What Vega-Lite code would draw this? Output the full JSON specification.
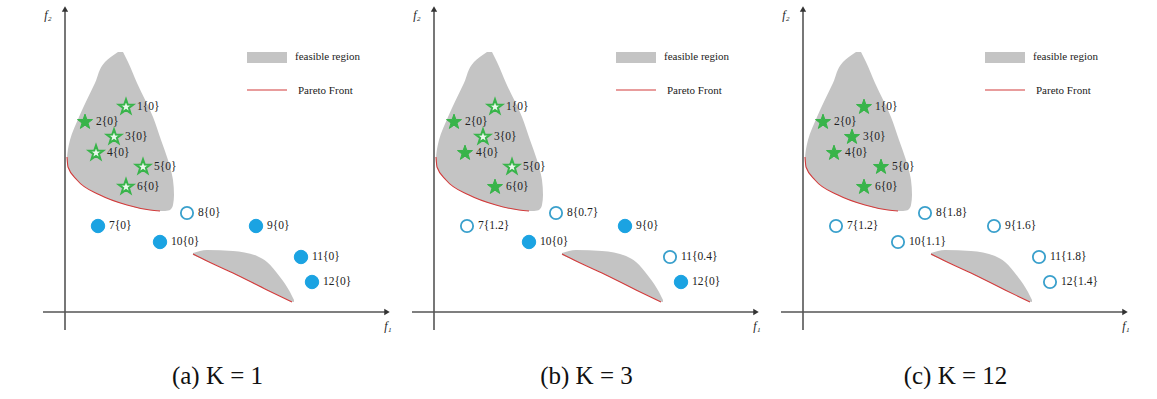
{
  "$schema": "https://vega.github.io/schema/vega-lite/v6.json",
  "padding": {"left": 20, "top": 0, "right": 0, "bottom": 0},
  "spacing": 0,
  "bounds": "flush",
  "config": {"view": {"stroke": null}},
  "datasets": {
    "regionA": [
      {"f2": 28.8, "xl": 9.8, "xr": 10.3}, {"f2": 27.8, "xl": 8.5, "xr": 10.8}, {"f2": 25.7, "xl": 7.5, "xr": 11.7},
      {"f2": 22.3, "xl": 5.9, "xr": 13.3}, {"f2": 20.0, "xl": 5.0, "xr": 14.1}, {"f2": 18.0, "xl": 4.7, "xr": 14.8},
      {"f2": 17.3, "xl": 4.8, "xr": 15.0}, {"f2": 16.0, "xl": 5.7, "xr": 15.3}, {"f2": 14.5, "xl": 8.0, "xr": 15.4},
      {"f2": 13.5, "xl": 10.7, "xr": 15.3}, {"f2": 13.0, "xl": 13.0, "xr": 15.0}, {"f2": 12.9, "xl": 14.0, "xr": 14.5}
    ],
    "regionB": [
      {"f1": 17.3, "top": 8.7, "bot": 8.5}, {"f1": 18.7, "top": 9.0, "bot": 7.9}, {"f1": 21.3, "top": 8.9, "bot": 6.7},
      {"f1": 23.7, "top": 8.4, "bot": 5.5}, {"f1": 24.7, "top": 7.8, "bot": 5.0}, {"f1": 26.0, "top": 6.3, "bot": 4.4},
      {"f1": 27.0, "top": 4.8, "bot": 3.9}, {"f1": 27.4, "top": 4.0, "bot": 3.8}
    ],
    "fronts": [
      {"r": 1, "f1": 4.7, "f2": 18.3}, {"r": 1, "f1": 4.8, "f2": 17.3}, {"r": 1, "f1": 5.7, "f2": 16.0},
      {"r": 1, "f1": 8.0, "f2": 14.5}, {"r": 1, "f1": 10.7, "f2": 13.5}, {"r": 1, "f1": 13.0, "f2": 13.0},
      {"r": 1, "f1": 14.0, "f2": 12.9},
      {"r": 2, "f1": 17.3, "f2": 8.6}, {"r": 2, "f1": 18.7, "f2": 7.9}, {"r": 2, "f1": 21.3, "f2": 6.7},
      {"r": 2, "f1": 24.7, "f2": 5.0}, {"r": 2, "f1": 27.2, "f2": 3.8}
    ],
    "axes": [
      {"f1": 4.5, "f1b": 4.5, "f2": 1.0, "f2b": 33.0},
      {"f1": 2.3, "f1b": 36.6, "f2": 2.8, "f2b": 2.8}
    ],
    "arrowUp": [{"f1": 4.5, "f2": 33.1}],
    "arrowRight": [{"f1": 36.7, "f2": 2.8}],
    "legRect": [{"f1": 22.7, "f1b": 26.7, "f2": 27.7, "f2b": 28.8}],
    "legLine": [{"f1": 22.7, "f1b": 26.7, "f2": 25.0}],
    "legText": [
      {"f1": 27.5, "f2": 28.3, "t": "feasible region"},
      {"f1": 27.8, "f2": 24.9, "t": "Pareto Front"}
    ],
    "axisLabels": [
      {"f1": 2.8, "f2": 32.5, "t": "f₂"},
      {"f1": 36.8, "f2": 1.4, "t": "f₁"}
    ],
    "pa": [
      {"id": 1, "f1": 10.6, "f2": 23.3, "state": "star-hollow", "label": "1{0}"},
      {"id": 2, "f1": 6.5, "f2": 21.8, "state": "star-filled", "label": "2{0}"},
      {"id": 3, "f1": 9.4, "f2": 20.3, "state": "star-hollow", "label": "3{0}"},
      {"id": 4, "f1": 7.6, "f2": 18.7, "state": "star-hollow", "label": "4{0}"},
      {"id": 5, "f1": 12.3, "f2": 17.3, "state": "star-hollow", "label": "5{0}"},
      {"id": 6, "f1": 10.6, "f2": 15.3, "state": "star-hollow", "label": "6{0}"},
      {"id": 7, "f1": 7.8, "f2": 11.4, "state": "circle-filled", "label": "7{0}"},
      {"id": 8, "f1": 16.7, "f2": 12.7, "state": "circle-hollow", "label": "8{0}"},
      {"id": 9, "f1": 23.6, "f2": 11.4, "state": "circle-filled", "label": "9{0}"},
      {"id": 10, "f1": 14.0, "f2": 9.8, "state": "circle-filled", "label": "10{0}"},
      {"id": 11, "f1": 28.1, "f2": 8.3, "state": "circle-filled", "label": "11{0}"},
      {"id": 12, "f1": 29.2, "f2": 5.8, "state": "circle-filled", "label": "12{0}"}
    ],
    "pb": [
      {"id": 1, "f1": 10.6, "f2": 23.3, "state": "star-hollow", "label": "1{0}"},
      {"id": 2, "f1": 6.5, "f2": 21.8, "state": "star-filled", "label": "2{0}"},
      {"id": 3, "f1": 9.4, "f2": 20.3, "state": "star-hollow", "label": "3{0}"},
      {"id": 4, "f1": 7.6, "f2": 18.7, "state": "star-filled", "label": "4{0}"},
      {"id": 5, "f1": 12.3, "f2": 17.3, "state": "star-hollow", "label": "5{0}"},
      {"id": 6, "f1": 10.6, "f2": 15.3, "state": "star-filled", "label": "6{0}"},
      {"id": 7, "f1": 7.8, "f2": 11.4, "state": "circle-hollow", "label": "7{1.2}"},
      {"id": 8, "f1": 16.7, "f2": 12.7, "state": "circle-hollow", "label": "8{0.7}"},
      {"id": 9, "f1": 23.6, "f2": 11.4, "state": "circle-filled", "label": "9{0}"},
      {"id": 10, "f1": 14.0, "f2": 9.8, "state": "circle-filled", "label": "10{0}"},
      {"id": 11, "f1": 28.1, "f2": 8.3, "state": "circle-hollow", "label": "11{0.4}"},
      {"id": 12, "f1": 29.2, "f2": 5.8, "state": "circle-filled", "label": "12{0}"}
    ],
    "pc": [
      {"id": 1, "f1": 10.6, "f2": 23.3, "state": "star-filled", "label": "1{0}"},
      {"id": 2, "f1": 6.5, "f2": 21.8, "state": "star-filled", "label": "2{0}"},
      {"id": 3, "f1": 9.4, "f2": 20.3, "state": "star-filled", "label": "3{0}"},
      {"id": 4, "f1": 7.6, "f2": 18.7, "state": "star-filled", "label": "4{0}"},
      {"id": 5, "f1": 12.3, "f2": 17.3, "state": "star-filled", "label": "5{0}"},
      {"id": 6, "f1": 10.6, "f2": 15.3, "state": "star-filled", "label": "6{0}"},
      {"id": 7, "f1": 7.8, "f2": 11.4, "state": "circle-hollow", "label": "7{1.2}"},
      {"id": 8, "f1": 16.7, "f2": 12.7, "state": "circle-hollow", "label": "8{1.8}"},
      {"id": 9, "f1": 23.6, "f2": 11.4, "state": "circle-hollow", "label": "9{1.6}"},
      {"id": 10, "f1": 14.0, "f2": 9.8, "state": "circle-hollow", "label": "10{1.1}"},
      {"id": 11, "f1": 28.1, "f2": 8.3, "state": "circle-hollow", "label": "11{1.8}"},
      {"id": 12, "f1": 29.2, "f2": 5.8, "state": "circle-hollow", "label": "12{1.4}"}
    ]
  },
  "hconcat": [
    {
      "width": 369, "height": 340,
      "title": {"text": "(a) K = 1", "orient": "bottom", "offset": 24, "dx": 13, "font": "Liberation Serif", "fontSize": 25, "fontWeight": "normal", "color": "#111111"},
      "layer": [
        {"data": {"name": "regionA"}, "mark": {"type": "area", "orient": "horizontal", "interpolate": "monotone", "color": "#c4c4c4"},
         "encoding": {"y": {"field": "f2", "type": "quantitative", "scale": {"domain": [0, 34], "nice": false, "zero": false}, "axis": null},
                      "x": {"field": "xl", "type": "quantitative", "scale": {"domain": [0, 36.9], "nice": false, "zero": false}, "axis": null},
                      "x2": {"field": "xr"}}},
        {"data": {"name": "regionB"}, "mark": {"type": "area", "interpolate": "monotone", "color": "#c4c4c4"},
         "encoding": {"x": {"field": "f1", "type": "quantitative"}, "y": {"field": "top", "type": "quantitative"}, "y2": {"field": "bot"}}},
        {"data": {"name": "fronts"}, "mark": {"type": "line", "interpolate": "monotone", "color": "#d23a3a", "strokeWidth": 1.1},
         "encoding": {"x": {"field": "f1", "type": "quantitative"}, "y": {"field": "f2", "type": "quantitative"}, "detail": {"field": "r", "type": "nominal"}}},
        {"data": {"name": "axes"}, "mark": {"type": "rule", "color": "#555555", "strokeWidth": 1.6},
         "encoding": {"x": {"field": "f1", "type": "quantitative"}, "x2": {"field": "f1b"}, "y": {"field": "f2", "type": "quantitative"}, "y2": {"field": "f2b"}}},
        {"data": {"name": "arrowUp"}, "mark": {"type": "point", "shape": "triangle-up", "filled": true, "color": "#333333", "size": 40, "opacity": 1},
         "encoding": {"x": {"field": "f1", "type": "quantitative"}, "y": {"field": "f2", "type": "quantitative"}}},
        {"data": {"name": "arrowRight"}, "mark": {"type": "point", "shape": "triangle-right", "filled": true, "color": "#333333", "size": 40, "opacity": 1},
         "encoding": {"x": {"field": "f1", "type": "quantitative"}, "y": {"field": "f2", "type": "quantitative"}}},
        {"data": {"name": "legRect"}, "mark": {"type": "rect", "color": "#c4c4c4"},
         "encoding": {"x": {"field": "f1", "type": "quantitative"}, "x2": {"field": "f1b"}, "y": {"field": "f2", "type": "quantitative"}, "y2": {"field": "f2b"}}},
        {"data": {"name": "legLine"}, "mark": {"type": "rule", "color": "#d23a3a", "strokeWidth": 1.2},
         "encoding": {"x": {"field": "f1", "type": "quantitative"}, "x2": {"field": "f1b"}, "y": {"field": "f2", "type": "quantitative"}}},
        {"data": {"name": "legText"}, "mark": {"type": "text", "align": "left", "baseline": "middle", "font": "Liberation Serif", "fontSize": 11, "color": "#222222"},
         "encoding": {"x": {"field": "f1", "type": "quantitative"}, "y": {"field": "f2", "type": "quantitative"}, "text": {"field": "t", "type": "nominal"}}},
        {"data": {"name": "axisLabels"}, "mark": {"type": "text", "align": "center", "baseline": "middle", "font": "Liberation Serif", "fontStyle": "italic", "fontSize": 12, "color": "#222222"},
         "encoding": {"x": {"field": "f1", "type": "quantitative"}, "y": {"field": "f2", "type": "quantitative"}, "text": {"field": "t", "type": "nominal"}}},
        {"data": {"name": "pa"}, "transform": [{"filter": {"field": "state", "equal": "star-filled"}}],
         "mark": {"type": "point", "shape": "M0,-1L0.235,-0.324L0.951,-0.309L0.38,0.124L0.588,0.809L0,0.4L-0.588,0.809L-0.38,0.124L-0.951,-0.309L-0.235,-0.324Z", "filled": true, "fill": "#38b44a", "stroke": "#38b44a", "strokeWidth": 1, "size": 250, "opacity": 1},
         "encoding": {"x": {"field": "f1", "type": "quantitative"}, "y": {"field": "f2", "type": "quantitative"}}},
        {"data": {"name": "pa"}, "transform": [{"filter": {"field": "state", "equal": "star-hollow"}}],
         "mark": {"type": "point", "shape": "M0,-1L0.235,-0.324L0.951,-0.309L0.38,0.124L0.588,0.809L0,0.4L-0.588,0.809L-0.38,0.124L-0.951,-0.309L-0.235,-0.324Z", "filled": true, "fill": "#eaf8ec", "stroke": "#38b44a", "strokeWidth": 2, "size": 230, "opacity": 1},
         "encoding": {"x": {"field": "f1", "type": "quantitative"}, "y": {"field": "f2", "type": "quantitative"}}},
        {"data": {"name": "pa"}, "transform": [{"filter": {"field": "state", "equal": "circle-filled"}}],
         "mark": {"type": "point", "shape": "circle", "filled": true, "fill": "#1ba3e2", "stroke": "#1ba3e2", "strokeWidth": 1, "size": 180, "opacity": 1},
         "encoding": {"x": {"field": "f1", "type": "quantitative"}, "y": {"field": "f2", "type": "quantitative"}}},
        {"data": {"name": "pa"}, "transform": [{"filter": {"field": "state", "equal": "circle-hollow"}}],
         "mark": {"type": "point", "shape": "circle", "filled": true, "fill": "#ffffff", "stroke": "#3aa0cc", "strokeWidth": 1.8, "size": 150, "opacity": 1},
         "encoding": {"x": {"field": "f1", "type": "quantitative"}, "y": {"field": "f2", "type": "quantitative"}}},
        {"data": {"name": "pa"}, "mark": {"type": "text", "align": "left", "baseline": "middle", "dx": 11, "font": "Liberation Serif", "fontSize": 11.5, "color": "#222222"},
         "encoding": {"x": {"field": "f1", "type": "quantitative"}, "y": {"field": "f2", "type": "quantitative"}, "text": {"field": "label", "type": "nominal"}}}
      ]
    },
    {
      "width": 369, "height": 340,
      "title": {"text": "(b) K = 3", "orient": "bottom", "offset": 24, "dx": 13, "font": "Liberation Serif", "fontSize": 25, "fontWeight": "normal", "color": "#111111"},
      "layer": [
        {"data": {"name": "regionA"}, "mark": {"type": "area", "orient": "horizontal", "interpolate": "monotone", "color": "#c4c4c4"},
         "encoding": {"y": {"field": "f2", "type": "quantitative", "scale": {"domain": [0, 34], "nice": false, "zero": false}, "axis": null},
                      "x": {"field": "xl", "type": "quantitative", "scale": {"domain": [0, 36.9], "nice": false, "zero": false}, "axis": null},
                      "x2": {"field": "xr"}}},
        {"data": {"name": "regionB"}, "mark": {"type": "area", "interpolate": "monotone", "color": "#c4c4c4"},
         "encoding": {"x": {"field": "f1", "type": "quantitative"}, "y": {"field": "top", "type": "quantitative"}, "y2": {"field": "bot"}}},
        {"data": {"name": "fronts"}, "mark": {"type": "line", "interpolate": "monotone", "color": "#d23a3a", "strokeWidth": 1.1},
         "encoding": {"x": {"field": "f1", "type": "quantitative"}, "y": {"field": "f2", "type": "quantitative"}, "detail": {"field": "r", "type": "nominal"}}},
        {"data": {"name": "axes"}, "mark": {"type": "rule", "color": "#555555", "strokeWidth": 1.6},
         "encoding": {"x": {"field": "f1", "type": "quantitative"}, "x2": {"field": "f1b"}, "y": {"field": "f2", "type": "quantitative"}, "y2": {"field": "f2b"}}},
        {"data": {"name": "arrowUp"}, "mark": {"type": "point", "shape": "triangle-up", "filled": true, "color": "#333333", "size": 40, "opacity": 1},
         "encoding": {"x": {"field": "f1", "type": "quantitative"}, "y": {"field": "f2", "type": "quantitative"}}},
        {"data": {"name": "arrowRight"}, "mark": {"type": "point", "shape": "triangle-right", "filled": true, "color": "#333333", "size": 40, "opacity": 1},
         "encoding": {"x": {"field": "f1", "type": "quantitative"}, "y": {"field": "f2", "type": "quantitative"}}},
        {"data": {"name": "legRect"}, "mark": {"type": "rect", "color": "#c4c4c4"},
         "encoding": {"x": {"field": "f1", "type": "quantitative"}, "x2": {"field": "f1b"}, "y": {"field": "f2", "type": "quantitative"}, "y2": {"field": "f2b"}}},
        {"data": {"name": "legLine"}, "mark": {"type": "rule", "color": "#d23a3a", "strokeWidth": 1.2},
         "encoding": {"x": {"field": "f1", "type": "quantitative"}, "x2": {"field": "f1b"}, "y": {"field": "f2", "type": "quantitative"}}},
        {"data": {"name": "legText"}, "mark": {"type": "text", "align": "left", "baseline": "middle", "font": "Liberation Serif", "fontSize": 11, "color": "#222222"},
         "encoding": {"x": {"field": "f1", "type": "quantitative"}, "y": {"field": "f2", "type": "quantitative"}, "text": {"field": "t", "type": "nominal"}}},
        {"data": {"name": "axisLabels"}, "mark": {"type": "text", "align": "center", "baseline": "middle", "font": "Liberation Serif", "fontStyle": "italic", "fontSize": 12, "color": "#222222"},
         "encoding": {"x": {"field": "f1", "type": "quantitative"}, "y": {"field": "f2", "type": "quantitative"}, "text": {"field": "t", "type": "nominal"}}},
        {"data": {"name": "pb"}, "transform": [{"filter": {"field": "state", "equal": "star-filled"}}],
         "mark": {"type": "point", "shape": "M0,-1L0.235,-0.324L0.951,-0.309L0.38,0.124L0.588,0.809L0,0.4L-0.588,0.809L-0.38,0.124L-0.951,-0.309L-0.235,-0.324Z", "filled": true, "fill": "#38b44a", "stroke": "#38b44a", "strokeWidth": 1, "size": 250, "opacity": 1},
         "encoding": {"x": {"field": "f1", "type": "quantitative"}, "y": {"field": "f2", "type": "quantitative"}}},
        {"data": {"name": "pb"}, "transform": [{"filter": {"field": "state", "equal": "star-hollow"}}],
         "mark": {"type": "point", "shape": "M0,-1L0.235,-0.324L0.951,-0.309L0.38,0.124L0.588,0.809L0,0.4L-0.588,0.809L-0.38,0.124L-0.951,-0.309L-0.235,-0.324Z", "filled": true, "fill": "#eaf8ec", "stroke": "#38b44a", "strokeWidth": 2, "size": 230, "opacity": 1},
         "encoding": {"x": {"field": "f1", "type": "quantitative"}, "y": {"field": "f2", "type": "quantitative"}}},
        {"data": {"name": "pb"}, "transform": [{"filter": {"field": "state", "equal": "circle-filled"}}],
         "mark": {"type": "point", "shape": "circle", "filled": true, "fill": "#1ba3e2", "stroke": "#1ba3e2", "strokeWidth": 1, "size": 180, "opacity": 1},
         "encoding": {"x": {"field": "f1", "type": "quantitative"}, "y": {"field": "f2", "type": "quantitative"}}},
        {"data": {"name": "pb"}, "transform": [{"filter": {"field": "state", "equal": "circle-hollow"}}],
         "mark": {"type": "point", "shape": "circle", "filled": true, "fill": "#ffffff", "stroke": "#3aa0cc", "strokeWidth": 1.8, "size": 150, "opacity": 1},
         "encoding": {"x": {"field": "f1", "type": "quantitative"}, "y": {"field": "f2", "type": "quantitative"}}},
        {"data": {"name": "pb"}, "mark": {"type": "text", "align": "left", "baseline": "middle", "dx": 11, "font": "Liberation Serif", "fontSize": 11.5, "color": "#222222"},
         "encoding": {"x": {"field": "f1", "type": "quantitative"}, "y": {"field": "f2", "type": "quantitative"}, "text": {"field": "label", "type": "nominal"}}}
      ]
    },
    {
      "width": 369, "height": 340,
      "title": {"text": "(c) K = 12", "orient": "bottom", "offset": 24, "dx": 13, "font": "Liberation Serif", "fontSize": 25, "fontWeight": "normal", "color": "#111111"},
      "layer": [
        {"data": {"name": "regionA"}, "mark": {"type": "area", "orient": "horizontal", "interpolate": "monotone", "color": "#c4c4c4"},
         "encoding": {"y": {"field": "f2", "type": "quantitative", "scale": {"domain": [0, 34], "nice": false, "zero": false}, "axis": null},
                      "x": {"field": "xl", "type": "quantitative", "scale": {"domain": [0, 36.9], "nice": false, "zero": false}, "axis": null},
                      "x2": {"field": "xr"}}},
        {"data": {"name": "regionB"}, "mark": {"type": "area", "interpolate": "monotone", "color": "#c4c4c4"},
         "encoding": {"x": {"field": "f1", "type": "quantitative"}, "y": {"field": "top", "type": "quantitative"}, "y2": {"field": "bot"}}},
        {"data": {"name": "fronts"}, "mark": {"type": "line", "interpolate": "monotone", "color": "#d23a3a", "strokeWidth": 1.1},
         "encoding": {"x": {"field": "f1", "type": "quantitative"}, "y": {"field": "f2", "type": "quantitative"}, "detail": {"field": "r", "type": "nominal"}}},
        {"data": {"name": "axes"}, "mark": {"type": "rule", "color": "#555555", "strokeWidth": 1.6},
         "encoding": {"x": {"field": "f1", "type": "quantitative"}, "x2": {"field": "f1b"}, "y": {"field": "f2", "type": "quantitative"}, "y2": {"field": "f2b"}}},
        {"data": {"name": "arrowUp"}, "mark": {"type": "point", "shape": "triangle-up", "filled": true, "color": "#333333", "size": 40, "opacity": 1},
         "encoding": {"x": {"field": "f1", "type": "quantitative"}, "y": {"field": "f2", "type": "quantitative"}}},
        {"data": {"name": "arrowRight"}, "mark": {"type": "point", "shape": "triangle-right", "filled": true, "color": "#333333", "size": 40, "opacity": 1},
         "encoding": {"x": {"field": "f1", "type": "quantitative"}, "y": {"field": "f2", "type": "quantitative"}}},
        {"data": {"name": "legRect"}, "mark": {"type": "rect", "color": "#c4c4c4"},
         "encoding": {"x": {"field": "f1", "type": "quantitative"}, "x2": {"field": "f1b"}, "y": {"field": "f2", "type": "quantitative"}, "y2": {"field": "f2b"}}},
        {"data": {"name": "legLine"}, "mark": {"type": "rule", "color": "#d23a3a", "strokeWidth": 1.2},
         "encoding": {"x": {"field": "f1", "type": "quantitative"}, "x2": {"field": "f1b"}, "y": {"field": "f2", "type": "quantitative"}}},
        {"data": {"name": "legText"}, "mark": {"type": "text", "align": "left", "baseline": "middle", "font": "Liberation Serif", "fontSize": 11, "color": "#222222"},
         "encoding": {"x": {"field": "f1", "type": "quantitative"}, "y": {"field": "f2", "type": "quantitative"}, "text": {"field": "t", "type": "nominal"}}},
        {"data": {"name": "axisLabels"}, "mark": {"type": "text", "align": "center", "baseline": "middle", "font": "Liberation Serif", "fontStyle": "italic", "fontSize": 12, "color": "#222222"},
         "encoding": {"x": {"field": "f1", "type": "quantitative"}, "y": {"field": "f2", "type": "quantitative"}, "text": {"field": "t", "type": "nominal"}}},
        {"data": {"name": "pc"}, "transform": [{"filter": {"field": "state", "equal": "star-filled"}}],
         "mark": {"type": "point", "shape": "M0,-1L0.235,-0.324L0.951,-0.309L0.38,0.124L0.588,0.809L0,0.4L-0.588,0.809L-0.38,0.124L-0.951,-0.309L-0.235,-0.324Z", "filled": true, "fill": "#38b44a", "stroke": "#38b44a", "strokeWidth": 1, "size": 250, "opacity": 1},
         "encoding": {"x": {"field": "f1", "type": "quantitative"}, "y": {"field": "f2", "type": "quantitative"}}},
        {"data": {"name": "pc"}, "transform": [{"filter": {"field": "state", "equal": "star-hollow"}}],
         "mark": {"type": "point", "shape": "M0,-1L0.235,-0.324L0.951,-0.309L0.38,0.124L0.588,0.809L0,0.4L-0.588,0.809L-0.38,0.124L-0.951,-0.309L-0.235,-0.324Z", "filled": true, "fill": "#eaf8ec", "stroke": "#38b44a", "strokeWidth": 2, "size": 230, "opacity": 1},
         "encoding": {"x": {"field": "f1", "type": "quantitative"}, "y": {"field": "f2", "type": "quantitative"}}},
        {"data": {"name": "pc"}, "transform": [{"filter": {"field": "state", "equal": "circle-filled"}}],
         "mark": {"type": "point", "shape": "circle", "filled": true, "fill": "#1ba3e2", "stroke": "#1ba3e2", "strokeWidth": 1, "size": 180, "opacity": 1},
         "encoding": {"x": {"field": "f1", "type": "quantitative"}, "y": {"field": "f2", "type": "quantitative"}}},
        {"data": {"name": "pc"}, "transform": [{"filter": {"field": "state", "equal": "circle-hollow"}}],
         "mark": {"type": "point", "shape": "circle", "filled": true, "fill": "#ffffff", "stroke": "#3aa0cc", "strokeWidth": 1.8, "size": 150, "opacity": 1},
         "encoding": {"x": {"field": "f1", "type": "quantitative"}, "y": {"field": "f2", "type": "quantitative"}}},
        {"data": {"name": "pc"}, "mark": {"type": "text", "align": "left", "baseline": "middle", "dx": 11, "font": "Liberation Serif", "fontSize": 11.5, "color": "#222222"},
         "encoding": {"x": {"field": "f1", "type": "quantitative"}, "y": {"field": "f2", "type": "quantitative"}, "text": {"field": "label", "type": "nominal"}}}
      ]
    }
  ]
}
